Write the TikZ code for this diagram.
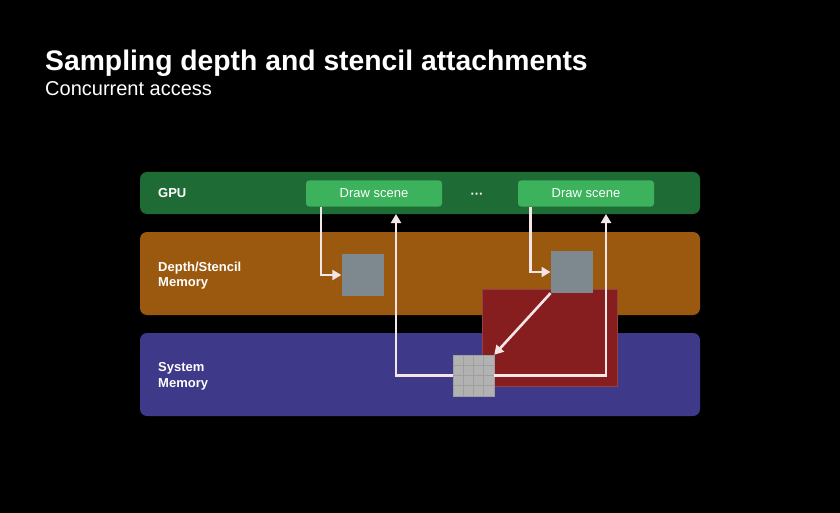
\documentclass[tikz,border=0pt]{standalone}
\usepackage{fontspec}
\setmainfont{Liberation Sans}
\usetikzlibrary{arrows.meta}
\definecolor{gpugreen}{HTML}{1E6B35}
\definecolor{passgreen}{HTML}{3BB25B}
\definecolor{depthorange}{HTML}{9A590E}
\definecolor{syspurple}{HTML}{3E3989}
\definecolor{resolvered}{HTML}{861E20}
\definecolor{texgray}{HTML}{7D898E}
\definecolor{gridgray}{HTML}{B2B2B2}
\definecolor{flowwhite}{HTML}{F4E6E6}
\begin{document}
\begin{tikzpicture}[x=1pt,y=-1pt,
    lane/.style={rounded corners=7pt, minimum width=560pt, inner sep=0pt},
    pass/.style={fill=passgreen, rounded corners=3pt, minimum width=136pt, minimum height=26pt,
      inner sep=0pt, text=white, font=\fontsize{13}{15}\selectfont},
    lbl/.style={anchor=west, align=left, inner sep=0pt, text=white,
      font=\bfseries\fontsize{13}{15.5}\selectfont},
    tex/.style={fill=texgray, minimum size=42pt, inner sep=0pt},
    gridline/.style={draw=gray!75, line width=0.5pt},
    flow/.style={draw=flowwhite, line width=2.6pt, -{Triangle[length=9pt,width=10pt]}}]
    \useasboundingbox (0,0) rectangle (840,513);
    \fill[black] (0,0) rectangle (840,513);
    \node[anchor=base west, inner sep=0pt, text=white, font=\bfseries\fontsize{28.3}{32}\selectfont] (title) at (45,71) {Sampling depth and stencil attachments};
    \node[anchor=base west, inner sep=0pt, text=white, font=\fontsize{20}{24}\selectfont] (subtitle) at (45,96) {Concurrent access};
    % lanes
    \node[lane, fill=gpugreen, minimum height=42pt] (gpu) at (420,193) {};
    \node[lane, fill=depthorange, minimum height=83pt] (depth) at (420,273.5) {};
    \node[lane, fill=syspurple, minimum height=83pt] (sys) at (420,374.5) {};
    \node[lbl] (gpulbl) at (158,193) {GPU};
    \node[lbl] (depthlbl) at (158,275.5) {Depth/Stencil\\Memory};
    \node[lbl] (syslbl) at (158,376.5) {System\\Memory};
    % passes
    \node[pass] (ds1) at (374,193.5) {Draw scene};
    \node[pass] (ds2) at (586,193.5) {Draw scene};
    \node[text=white, font=\bfseries\fontsize{13}{15}\selectfont] (dots) at (477,196) {···};
    % attachments
    \node[fill=resolvered, draw=resolvered!85!white, line width=0.6pt, minimum width=135pt, minimum height=97pt, inner sep=0pt] (resolve) at (549.5,337.5) {};
    \node[tex] (tex1) at (362.5,275) {};
    \node[tex] (tex2) at (571.7,272) {};
    \node[fill=gridgray, draw=gray!75, line width=0.5pt, minimum size=41pt, inner sep=0pt] (grid) at (473.5,375.5) {};
    \foreach \k in {1,2,3} {
      \draw[gridline] ([xshift=\k*10.25pt]grid.north west) -- ([xshift=\k*10.25pt]grid.south west);
      \draw[gridline] ([yshift=-\k*10.25pt]grid.north west) -- ([yshift=-\k*10.25pt]grid.north east);
    }
    % accesses
    \coordinate (ret1) at (396,214);
    \coordinate (ret2) at (606,214);
    \draw[flow] ([xshift=15pt]ds1.south west) |- (tex1.west);
    \draw[flow] ([xshift=12.5pt]ds2.south west) |- (tex2.west);
    \draw[flow] (tex2.south west) -- (grid.north east);
    \draw[flow] (grid.west) -| (ret1);
    \draw[flow] (grid.east) -| (ret2);
\end{tikzpicture}
\end{document}
